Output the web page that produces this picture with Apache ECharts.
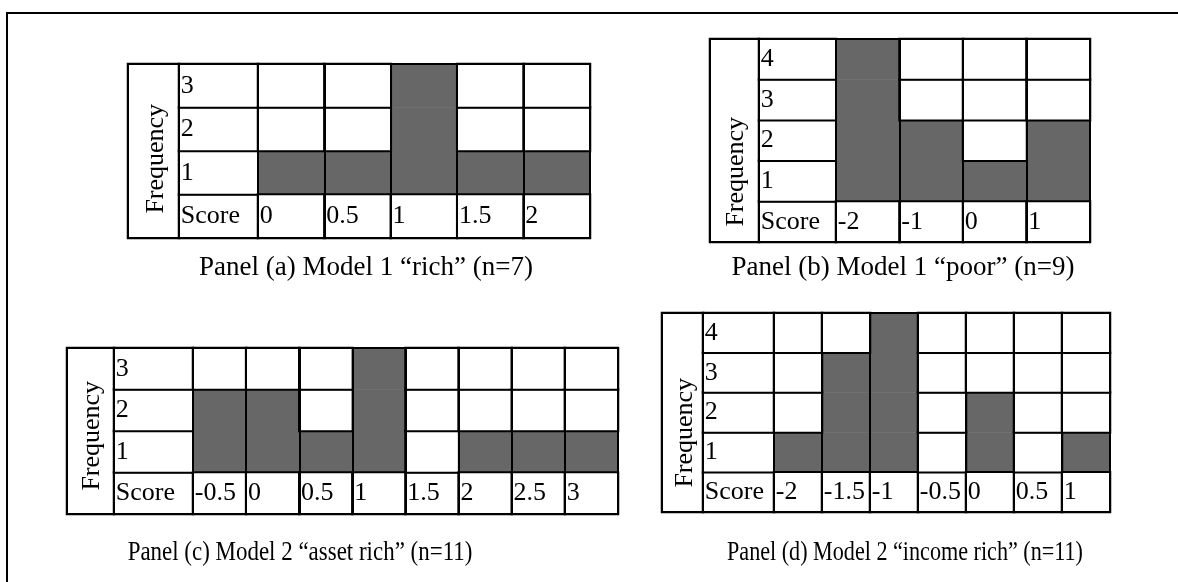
<!DOCTYPE html>
<html><head><meta charset="utf-8">
<script src="https://cdn.jsdelivr.net/npm/echarts@6/dist/echarts.min.js"></script>
<style>html,body{margin:0;padding:0;background:#fff}#c{width:1178px;height:582px}</style>
</head><body><div id="c"></div>
<script>
// ---- data ----
const scoresA = ['0', '0.5', '1', '1.5', '2'];
const freqA = [1, 1, 3, 1, 1];
const levelsA = ['1', '2', '3'];

const scoresB = ['-2', '-1', '0', '1'];
const freqB = [4, 2, 1, 2];
const levelsB = ['1', '2', '3', '4'];

const scoresC = ['-0.5', '0', '0.5', '1', '1.5', '2', '2.5', '3'];
const freqC = [2, 2, 1, 3, 0, 1, 1, 1];
const levelsC = ['1', '2', '3'];

const scoresD = ['-2', '-1.5', '-1', '-0.5', '0', '0.5', '1'];
const freqD = [1, 3, 4, 0, 2, 0, 1];
const levelsD = ['1', '2', '3', '4'];

const captions = [
  'Panel (a) Model 1 \u201crich\u201d (n=7)',
  'Panel (b) Model 1 \u201cpoor\u201d (n=9)',
  'Panel (c) Model 2 \u201casset rich\u201d (n=11)',
  'Panel (d) Model 2 \u201cincome rich\u201d (n=11)'
];
const rowHeader = 'Score';
const axisTitle = 'Frequency';

// ---- layout ----
const layouts = [
  {freqX: 128, labelX: 179, dataX: 258, right: 590, top: 64, bottom: 238, fcx: 157, fcy: 160, capX: 366, capY: 268, capSX: 1},
  {freqX: 710, labelX: 759, dataX: 836, right: 1090, top: 39, bottom: 242, fcx: 737, fcy: 173, capX: 903, capY: 268, capSX: 1},
  {freqX: 67, labelX: 114, dataX: 193, right: 618, top: 348, bottom: 514, fcx: 93, fcy: 437, capX: 300, capY: 553, capSX: 0.85},
  {freqX: 662, labelX: 703, dataX: 774, right: 1110, top: 313, bottom: 512, fcx: 686, fcy: 434, capX: 905, capY: 553, capSX: 0.82}
];
const panels = [
  {scores: scoresA, freq: freqA, levels: levelsA},
  {scores: scoresB, freq: freqB, levels: levelsB},
  {scores: scoresC, freq: freqC, levels: levelsC},
  {scores: scoresD, freq: freqD, levels: levelsD}
];

const FONT = '"Liberation Serif", "Times New Roman", serif';
const CELL_FS = 26;
const CAP_FS = 27;
const GRAY = '#676767';

const option = {
  animation: false,
  backgroundColor: '#ffffff',
  grid: [], xAxis: [], yAxis: [], series: [],
  graphic: [{
    type: 'rect', z: 100,
    shape: {x: 7, y: 13, width: 1300, height: 700},
    style: {fill: 'none', stroke: '#000', lineWidth: 2}
  }]
};

const cellLabel = {
  color: '#000', fontFamily: FONT, fontSize: CELL_FS
};

panels.forEach((p, k) => {
  const L = layouts[k];
  const h = L.bottom - L.top;
  const yCats = [rowHeader].concat(p.levels);
  const g = option.grid.length;
  const gridBase = {top: L.top, height: h, show: true, borderColor: '#000', borderWidth: 2, z: 5};
  option.grid.push(Object.assign({left: L.freqX, width: L.labelX - L.freqX}, gridBase));
  option.grid.push(Object.assign({left: L.labelX, width: L.dataX - L.labelX}, gridBase));
  option.grid.push(Object.assign({left: L.dataX, width: L.right - L.dataX}, gridBase));

  option.xAxis.push({gridIndex: g, type: 'category', data: ['f'], show: false});
  option.yAxis.push({gridIndex: g, type: 'category', data: ['f'], show: false});
  option.xAxis.push({gridIndex: g + 1, type: 'category', data: ['l'], show: false});
  option.yAxis.push({gridIndex: g + 1, type: 'category', data: yCats, show: false});
  option.xAxis.push({
    gridIndex: g + 2, type: 'category', data: p.scores, z: 6,
    axisLine: {show: false}, axisTick: {show: false, interval: 0},
    axisLabel: {show: false, interval: 0},
    splitLine: {show: true, interval: 0, lineStyle: {color: '#000', width: 2}}
  });
  option.yAxis.push({gridIndex: g + 2, type: 'category', data: yCats, show: false});

  // frequency title cell
  option.series.push({
    type: 'heatmap', xAxisIndex: g, yAxisIndex: g, silent: true,
    data: [[0, 0, 0]],
    itemStyle: {color: '#fff', borderColor: '#000', borderWidth: 2},
    label: Object.assign({
      show: true, formatter: axisTitle, rotate: 90,
      position: [L.fcx - L.freqX, L.fcy - L.top], align: 'center', verticalAlign: 'middle'
    }, cellLabel),
    emphasis: {disabled: true}
  });
  // row labels column
  option.series.push({
    type: 'heatmap', xAxisIndex: g + 1, yAxisIndex: g + 1, silent: true,
    data: yCats.map((c, j) => [0, j, 0]),
    itemStyle: {color: '#fff', borderColor: '#000', borderWidth: 2},
    label: Object.assign({
      show: true, position: 'insideLeft', distance: 3,
      formatter: (prm) => yCats[prm.data[1]]
    }, cellLabel),
    emphasis: {disabled: true}
  });
  // data cells
  const grayData = [], whiteData = [];
  p.scores.forEach((s, i) => {
    whiteData.push({value: [i, 0, 0], label: {show: true, formatter: s}});
    for (let lv = 1; lv <= p.levels.length; lv++) {
      if (p.freq[i] >= lv) grayData.push([i, lv, 1]);
      else whiteData.push([i, lv, 0]);
    }
  });
  option.series.push({
    type: 'heatmap', xAxisIndex: g + 2, yAxisIndex: g + 2, silent: true, z: 2,
    data: grayData,
    itemStyle: {color: GRAY, borderWidth: 0},
    emphasis: {disabled: true}
  });
  option.series.push({
    type: 'heatmap', xAxisIndex: g + 2, yAxisIndex: g + 2, silent: true, z: 3,
    data: whiteData,
    itemStyle: {color: '#fff', borderColor: '#000', borderWidth: 2},
    label: Object.assign({show: false, position: 'insideLeft', distance: 3}, cellLabel),
    emphasis: {disabled: true}
  });

  option.graphic.push({
    type: 'text', x: L.capX, y: L.capY, z: 100, scaleX: L.capSX,
    style: {text: captions[k], fill: '#000', font: CAP_FS + 'px ' + FONT, align: 'center', verticalAlign: 'middle'}
  });
});

const chart = echarts.init(document.getElementById('c'), null, {renderer: 'canvas'});
chart.setOption(option);
</script>
</body></html>
